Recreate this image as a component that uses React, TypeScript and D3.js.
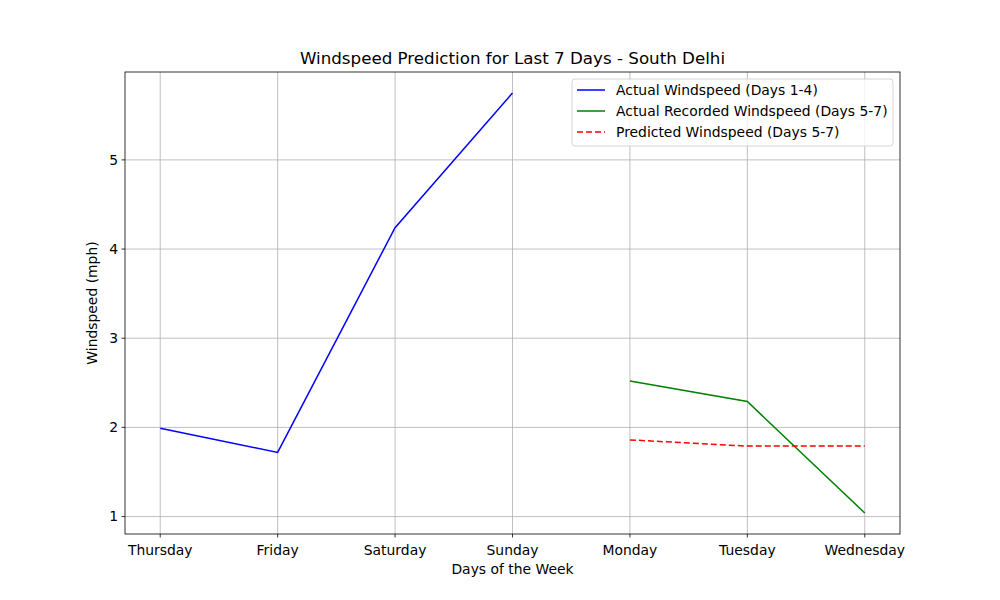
import React from 'react';
import * as d3 from 'd3';

const days = ['Thursday', 'Friday', 'Saturday', 'Sunday', 'Monday', 'Tuesday', 'Wednesday'];
const actualDays = ['Thursday', 'Friday', 'Saturday', 'Sunday'];
const actualValues = [1.99, 1.72, 4.24, 5.75];
const recordedDays = ['Monday', 'Tuesday', 'Wednesday'];
const recordedValues = [2.52, 2.29, 1.04];
const predictedDays = ['Monday', 'Tuesday', 'Wednesday'];
const predictedValues = [1.86, 1.79, 1.79];
const yTicks = [1, 2, 3, 4, 5];

const series = [
  { label: 'Actual Windspeed (Days 1-4)', days: actualDays, values: actualValues, color: 'blue', dash: null },
  { label: 'Actual Recorded Windspeed (Days 5-7)', days: recordedDays, values: recordedValues, color: 'green', dash: null },
  { label: 'Predicted Windspeed (Days 5-7)', days: predictedDays, values: predictedValues, color: 'red', dash: '6,3' },
];

const font = 'DejaVu Sans, sans-serif';

export default function App() {
  const width = 1000;
  const height = 600;
  const margin = { top: 72, right: 100, bottom: 66, left: 125 };

  const x = d3.scaleLinear()
    .domain([-0.3, days.length - 1 + 0.3])
    .range([margin.left, width - margin.right]);

  const all = [...actualValues, ...recordedValues, ...predictedValues];
  const lo = d3.min(all) as number;
  const hi = d3.max(all) as number;
  const pad = (hi - lo) * 0.05;
  const y = d3.scaleLinear()
    .domain([lo - pad, hi + pad])
    .range([height - margin.bottom, margin.top]);

  const line = d3.line<[string, number]>()
    .x((d) => x(days.indexOf(d[0])))
    .y((d) => y(d[1]));

  const plotBottom = height - margin.bottom;
  const plotRight = width - margin.right;

  return (
    <svg width={width} height={height} style={{ display: 'block', margin: '-8px' }} fontFamily={font}>
      <rect width={width} height={height} fill="#fff" />

      {/* grid */}
      {days.map((d, i) => (
        <line key={d} x1={x(i)} x2={x(i)} y1={margin.top} y2={plotBottom} stroke="#b0b0b0" strokeWidth={0.8} />
      ))}
      {yTicks.map((t) => (
        <line key={t} x1={margin.left} x2={plotRight} y1={y(t)} y2={y(t)} stroke="#b0b0b0" strokeWidth={0.8} />
      ))}

      {/* series */}
      {series.map((s) => (
        <path
          key={s.label}
          d={line(s.days.map((d, i) => [d, s.values[i]] as [string, number])) || ''}
          fill="none"
          stroke={s.color}
          strokeWidth={1.5}
          strokeDasharray={s.dash || undefined}
        />
      ))}

      {/* frame */}
      <rect x={margin.left} y={margin.top} width={plotRight - margin.left} height={plotBottom - margin.top}
        fill="none" stroke="#000" strokeWidth={0.8} />

      {/* x ticks */}
      {days.map((d, i) => (
        <g key={d} transform={`translate(${x(i)},${plotBottom})`}>
          <line y2={3.5} stroke="#000" strokeWidth={0.8} />
          <text y={21} textAnchor="middle" fontSize={13.9} fill="#000">{d}</text>
        </g>
      ))}
      {/* y ticks */}
      {yTicks.map((t) => (
        <g key={t} transform={`translate(${margin.left},${y(t)})`}>
          <line x2={-3.5} stroke="#000" strokeWidth={0.8} />
          <text x={-7} dy="0.35em" textAnchor="end" fontSize={13.9} fill="#000">{t}</text>
        </g>
      ))}

      <text x={(margin.left + plotRight) / 2} y={574} textAnchor="middle" fontSize={13.9}>Days of the Week</text>
      <text transform={`translate(97,${(margin.top + plotBottom) / 2}) rotate(-90)`} textAnchor="middle" fontSize={13.9}>Windspeed (mph)</text>
      <text x={(margin.left + plotRight) / 2} y={64} textAnchor="middle" fontSize={16.7}>Windspeed Prediction for Last 7 Days - South Delhi</text>

      {/* legend */}
      <g transform="translate(572,79)">
        <rect width={321} height={67} rx={3} fill="#fff" fillOpacity={0.8} stroke="#cccccc" strokeWidth={0.8} />
        {series.map((s, i) => (
          <g key={s.label} transform={`translate(0,${11 + i * 21})`}>
            <line x1={5} x2={33} stroke={s.color} strokeWidth={1.5} strokeDasharray={s.dash || undefined} />
            <text x={44} dy="0.35em" fontSize={13.9} fill="#000">{s.label}</text>
          </g>
        ))}
      </g>
    </svg>
  );
}
